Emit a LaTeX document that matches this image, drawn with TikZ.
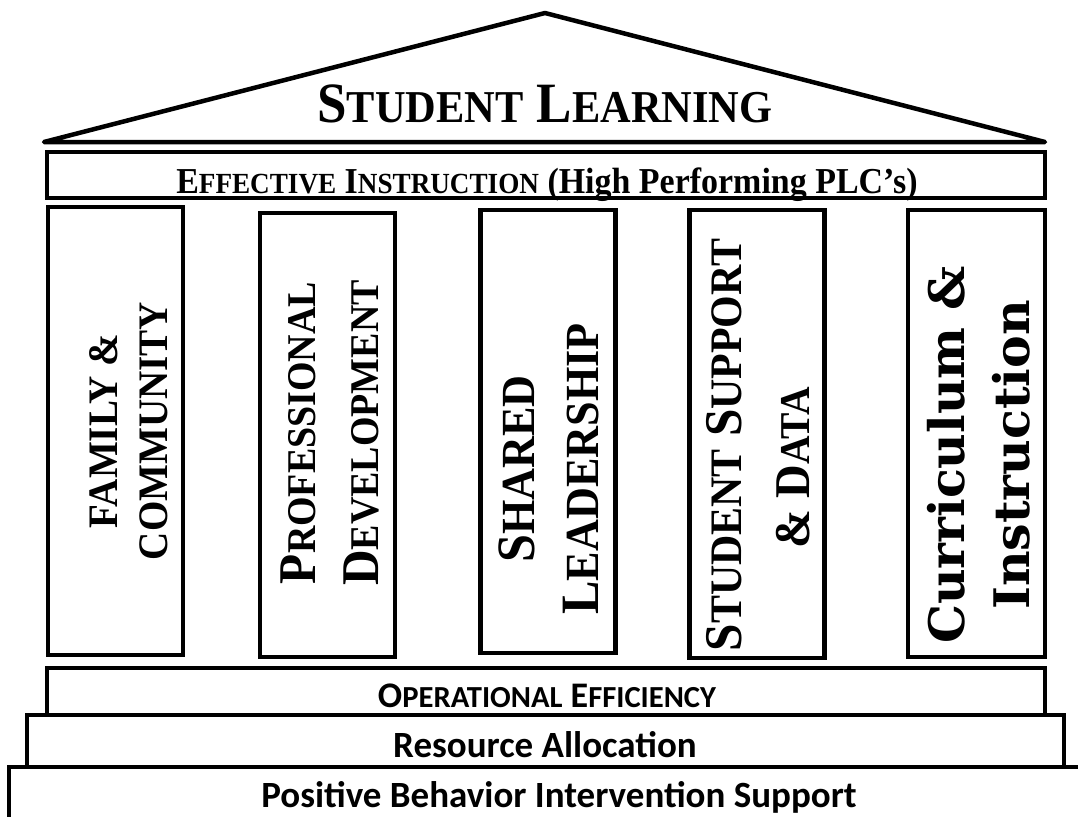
\documentclass[tikz,border=0pt]{standalone}
\usepackage{fontspec}
\setmainfont{Liberation Serif}[FakeStretch=0.93]
\newfontfamily\curfont{DejaVu Serif}
\newfontfamily\calfont{Carlito}
\usetikzlibrary{positioning}
\makeatletter
\newcommand{\smc}[2][0.8]{{\@tempdima=\f@size pt\@tempdima=#1\@tempdima
  \fontsize{\@tempdima}{\@tempdima}\selectfont #2}}
\makeatother
\tikzset{ >=latex,
  roofline/.style={draw,line width=4.5pt,line cap=round,line join=round},
  band/.style={draw,line width=4.5pt,rectangle,inner sep=0pt},
  pillar/.style={band,minimum width=135pt,minimum height=446pt},
  {roof text/.style}={anchor=base,inner sep=0pt,font=\bfseries\fontsize{57}{64}\selectfont},
  {band text/.style}={anchor=base,inner sep=0pt},
  {pillar text/.style}={rotate=90,align=center,inner sep=0pt},
 }
\begin{document}
\begin{tikzpicture}[x=1pt,y=-1pt]
        \useasboundingbox (0,0) rectangle (1078,816);
        % roof
        \coordinate (eaveL) at (44,142);
        \coordinate (eaveR) at (1045,142);
        \coordinate (apex) at (545,13);
        \draw[roofline] (eaveL) -- (apex) -- (eaveR) -- cycle;
        \node[roof text] (learn) at (545,122) {S\smc{TUDENT} L\smc{EARNING}};
        % entablature
        \node[band,minimum width=998pt,minimum height=46pt] (instr) at (546,175) {};
        \node[band text,font=\bfseries\fontsize{36.5}{40}\selectfont] (instrtxt) at (547,193)
                {E\smc{FFECTIVE} I\smc{NSTRUCTION} (High Performing PLC’s)};
        % pillars
        \node[pillar,minimum height=448pt] (fam) at (115.5,431) {};
        \node[pillar,minimum height=444pt] (prof) at (327.5,435) {};
        \node[pillar,minimum height=443pt] (lead) at (548,431.5) {};
        \node[pillar,minimum height=448pt] (supp) at (757,434) {};
        \node[pillar,minimum height=447pt,minimum width=137pt] (curr) at (976.5,433.5) {};
        \node[pillar text,font=\bfseries\fontsize{42}{50}\selectfont] (famtxt) at (129,431)
                {FAMILY \&\\ COMMUNITY};
        \node[pillar text,font=\bfseries\fontsize{53}{63}\selectfont] (proftxt) at (330,433)
                {P\smc[0.77]{ROFESSIONAL}\\ D\smc[0.77]{EVELOPMENT}};
        \node[pillar text,font=\bfseries\fontsize{54}{64}\selectfont] (leadtxt) at (549,469)
                {S\smc[0.88]{HARED}\\ L\smc[0.88]{EADERSHIP}};
        \node[pillar text,font=\bfseries\fontsize{53}{68}\selectfont] (supptxt) at (758,445)
                {S\smc[0.85]{TUDENT} S\smc[0.85]{UPPORT}\\
                 \fontsize{50}{68}\selectfont \& D\smc[0.85]{ATA}\hspace*{46pt}};
        \node[pillar text,font=\curfont\bfseries\fontsize{49}{65}\selectfont] (currtxt) at (979,455)
                {Curriculum \&\\ Instruction};
        % steps
        \node[band,minimum width=998pt,minimum height=47pt] (oper) at (546,691.5) {};
        \node[band,minimum width=1037pt,minimum height=52pt] (res) at (545.5,741) {};
        \node[band,minimum width=1091pt,minimum height=80pt] (pbis) at (554.5,807) {};
        \node[band text,font=\calfont\bfseries\fontsize{36}{40}\selectfont] (opertxt) at (547,707)
                {O\smc[0.85]{PERATIONAL} E\smc[0.85]{FFICIENCY}};
        \node[band text,font=\calfont\bfseries\fontsize{37}{44}\selectfont] (restxt) at (545,757)
                {Resource Allocation};
        \node[band text,font=\calfont\bfseries\fontsize{37}{44}\selectfont] (pbistxt) at (559,807)
                {Positive Behavior Intervention Support};
\end{tikzpicture}
\end{document}
